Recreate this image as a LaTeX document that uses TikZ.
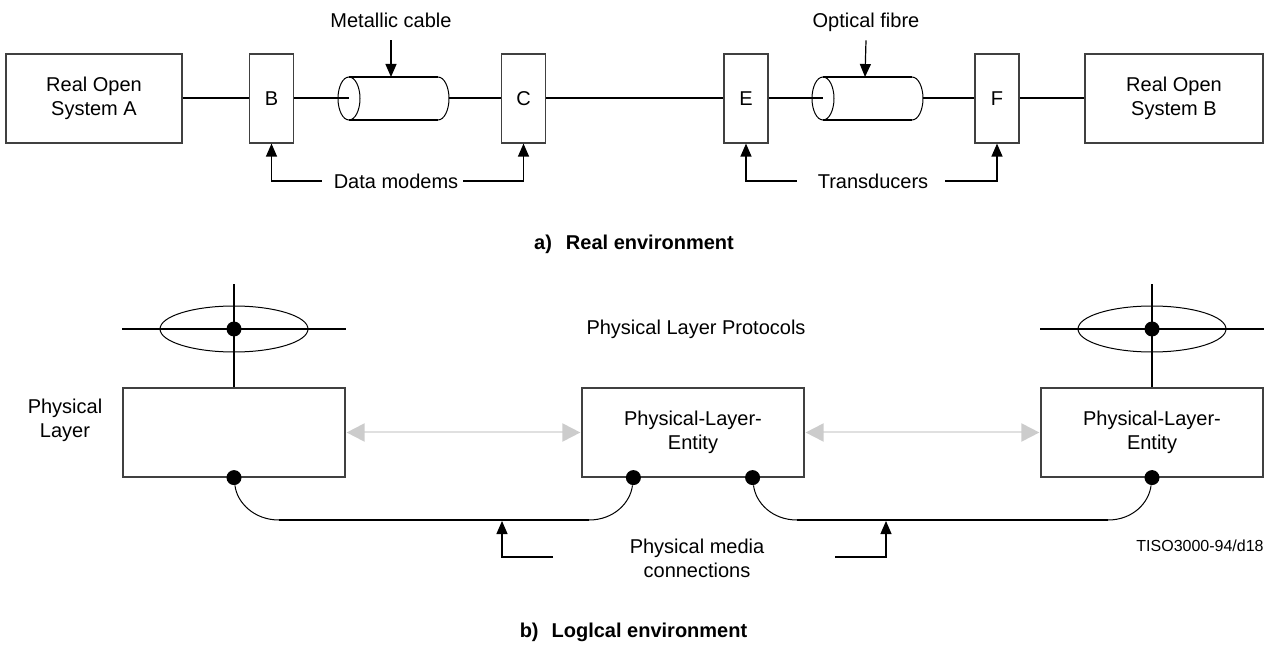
\documentclass[tikz,border=0pt]{standalone}
\usepackage{fontspec}
\setmainfont{Liberation Sans}
\usetikzlibrary{arrows.meta}

\newcommand\cable[2]{
        \coordinate (#1w) at (#2,98.5);
        \coordinate (#1r) at (#2+100,98.5);
        \coordinate (#1top) at (#2+42,77);
        \draw [thinline] (#1w) ellipse [x radius=5.5pt, y radius=10.75pt];
        \draw [wire] (#2,77) -- (#2+89,77);
        \draw [wire] (#2,120) -- (#2+89,120);
        \draw [thinline] (#2+89,77) arc [start angle=90, end angle=-90, x radius=5.5pt, y radius=10.75pt];
}
\newcommand\sap[2]{
        \coordinate (#1) at (#2.north |- 0,329);
        \draw [thinline] (#1) ellipse [x radius=37pt, y radius=11.5pt];
        \draw [wire] (#2.north west |- #1) -- (#2.north east |- #1);
        \draw [wire] (#2.north) -- ([yshift=22.5pt]#1);
        \node [dot] (#1dot) at (#1) {};
}

\begin{document}
\begin{tikzpicture}[x=0.5pt, y=-0.5pt,
        wire/.style={line width=1pt},
        thinline/.style={line width=.5pt},
        unit/.style={draw=black!75, line width=.6pt, inner sep=0pt, minimum height=44.5pt, align=center},
        modem/.style={unit, minimum width=22pt},
        entity/.style={unit, minimum width=111pt},
        tag/.style={text depth=0pt},
        dot/.style={circle, fill=black, inner sep=0pt, minimum size=7.5pt},
        pointer/.style={line width=.6pt, -{Triangle[length=6.5pt, width=5.5pt]}},
        peer/.style={line width=1pt, draw=black!12, shorten <=.5pt, shorten >=.5pt,
                {Triangle[length=9pt, width=9pt, color=black!20]}-{Triangle[length=9pt, width=9pt, color=black!20]}},
        caption/.style={font=\bfseries}
        ]
        \useasboundingbox (0,0) rectangle (1270,663);

        % a) real environment
        \node [unit, minimum width=88pt] (sysA) at (94,98.5) {Real Open\\System A};
        \node [modem] (modB) at (271.5,98.5) {B};
        \node [modem] (modC) at (523.5,98.5) {C};
        \node [modem] (trE) at (746,98.5) {E};
        \node [modem] (trF) at (997,98.5) {F};
        \node [unit, minimum width=89pt] (sysB) at (1174,98.5) {Real Open\\System B};
        \cable{cabA}{349}
        \cable{cabB}{823}
        \draw [wire] (sysA) -- (modB);
        \draw [wire] (modB) -- (cabAw);
        \draw [wire] (cabAr) -- (modC);
        \draw [wire] (modC) -- (trE);
        \draw [wire] (trE) -- (cabBw);
        \draw [wire] (cabBr) -- (trF);
        \draw [wire] (trF) -- (sysB);

        \node [tag] (lblMetal) at (391,20) {Metallic cable};
        \node [tag] (lblOptic) at (866,20) {Optical fibre};
        \draw [pointer] ([yshift=-3pt]lblMetal.south) -- (cabAtop);
        \draw [pointer] ([yshift=-3pt]lblOptic.south) -- (cabBtop);
        \node [tag] (lblModem) at (396,181) {Data modems};
        \draw [pointer] ([xshift=-2.5pt]lblModem.west) -| (modB.south);
        \draw [pointer] ([xshift=-1pt]lblModem.east) -| (modC.south);
        \node [tag] (lblTrans) at (873,181) {Transducers};
        \draw [pointer] ([xshift=-7pt]lblTrans.west) -| (trE.south);
        \draw [pointer] ([xshift=5pt]lblTrans.east) -| (trF.south);
        \node [caption] (capA) at (634,244) {a)\hspace{7pt}Real environment};

        % b) logical environment
        \node [entity] (phyL) at (234,432.5) {};
        \node [entity] (phyM) at (693,432.5) {Physical-Layer-\\Entity};
        \node [entity] (phyR) at (1152,432.5) {Physical-Layer-\\Entity};
        \node [align=center] (lblLayer) at (65,420) {Physical\\Layer};
        \node (lblProto) at (696,329) {Physical Layer Protocols};
        \sap{sapL}{phyL}
        \sap{sapR}{phyR}
        \draw [peer] (phyL) -- (phyM);
        \draw [peer] (phyM) -- (phyR);

        \node [dot] (pmL) at (phyL.south) {};
        \node [dot] (pmMa) at ([xshift=26pt]phyM.south west) {};
        \node [dot] (pmMb) at ([xshift=-26pt]phyM.south east) {};
        \node [dot] (pmR) at (phyR.south) {};
        \coordinate (medLa) at (279,520);
        \coordinate (medLb) at (589,520);
        \coordinate (medRa) at (797,520);
        \coordinate (medRb) at (1108,520);
        \draw [thinline] (pmL) .. controls +(3,25) and +(-25,0) .. (medLa);
        \draw [wire] (medLa) -- (medLb);
        \draw [thinline] (medLb) .. controls +(25,0) and +(-3,25) .. (pmMa);
        \draw [thinline] (pmMb) .. controls +(3,25) and +(-25,0) .. (medRa);
        \draw [wire] (medRa) -- (medRb);
        \draw [thinline] (medRb) .. controls +(25,0) and +(-3,25) .. (pmR);

        \node [align=center] (lblMedia) at (697,558) {Physical media\\connections};
        \coordinate (medLtap) at (502,520);
        \coordinate (medLfoot) at (553,557);
        \coordinate (medRtap) at (886,520);
        \coordinate (medRfoot) at (835,557);
        \draw [pointer, shorten >=.5pt] (medLfoot) -| (medLtap);
        \draw [pointer, shorten >=.5pt] (medRfoot) -| (medRtap);
        \node [font=\fontsize{8}{10}\selectfont, anchor=east, inner sep=1pt] (lblRef) at (1266,546) {TISO3000-94/d18};
        \node [caption] (capB) at (633.5,632) {b)\hspace{6.5pt}Loglcal environment};
\end{tikzpicture}
\end{document}
